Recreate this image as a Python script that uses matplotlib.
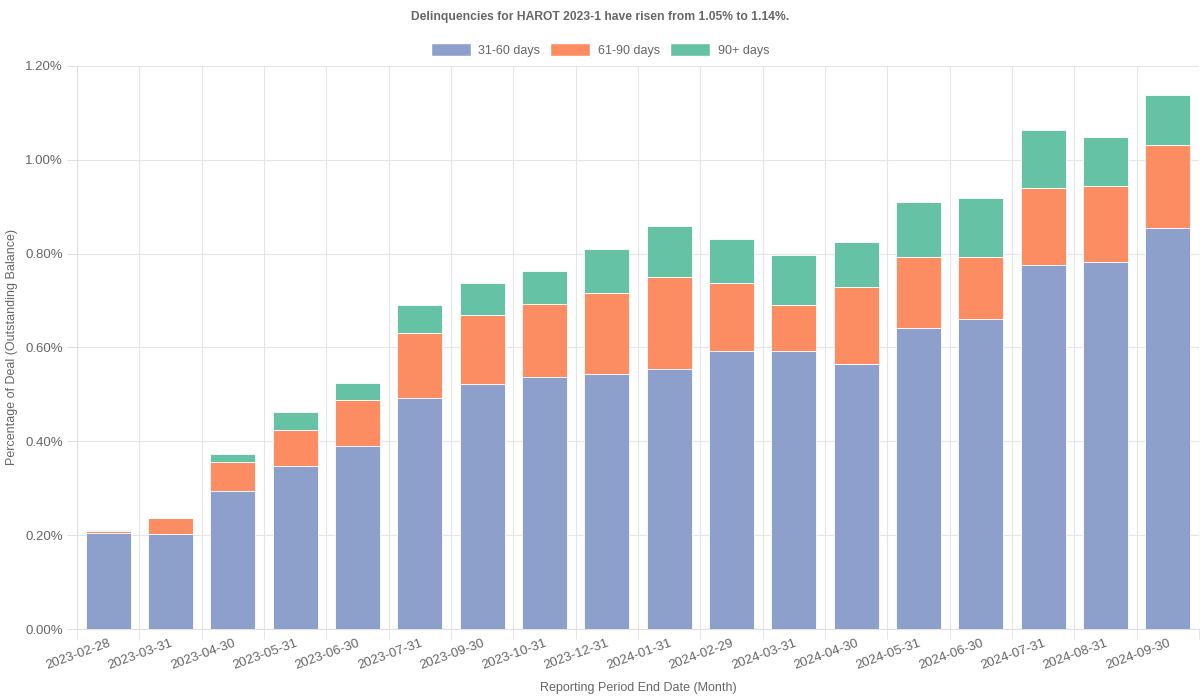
import matplotlib
matplotlib.use("Agg")
import matplotlib.pyplot as plt
from matplotlib.ticker import FuncFormatter, FixedLocator
from matplotlib.patches import Patch
import numpy as np

plt.rcParams['font.family'] = ['Liberation Sans', 'DejaVu Sans']

dates = ["2023-02-28", "2023-03-31", "2023-04-30", "2023-05-31", "2023-06-30",
         "2023-07-31", "2023-09-30", "2023-10-31", "2023-12-31", "2024-01-31",
         "2024-02-29", "2024-03-31", "2024-04-30", "2024-05-31", "2024-06-30",
         "2024-07-31", "2024-08-31", "2024-09-30"]
d31_60 = [0.205, 0.203, 0.294, 0.348, 0.390, 0.493, 0.522, 0.537, 0.544, 0.554,
          0.593, 0.593, 0.565, 0.642, 0.661, 0.776, 0.782, 0.855]
d61_90 = [0.004, 0.034, 0.062, 0.077, 0.098, 0.137, 0.148, 0.156, 0.172, 0.197,
          0.145, 0.098, 0.164, 0.151, 0.132, 0.164, 0.163, 0.177]
d90p = [0.001, 0.000, 0.016, 0.038, 0.037, 0.060, 0.068, 0.070, 0.094, 0.109,
        0.094, 0.106, 0.096, 0.117, 0.126, 0.124, 0.104, 0.107]
series_names = ["31-60 days", "61-90 days", "90+ days"]
colors = ["#8da0cb", "#fc8d62", "#66c2a5"]

fig = plt.figure(figsize=(12, 7), dpi=100)
ax = fig.add_axes([77/1200, 71/700, (1199-77)/1200, (629-66)/700])

x = np.arange(len(dates))
bottom = np.zeros(len(dates))
for vals, c in zip([d31_60, d61_90, d90p], colors):
    v = np.array(vals)
    ax.bar(x, v, bottom=bottom, width=0.72, color=c, edgecolor='white', linewidth=0.6, zorder=3)
    bottom += v

ax.set_xlim(-0.5, len(dates) - 0.5)
ax.set_ylim(0, 1.2)
ax.yaxis.set_major_locator(FixedLocator(np.arange(0, 1.21, 0.2)))
ax.yaxis.set_major_formatter(FuncFormatter(lambda v, p: f"{v:.2f}%"))
ax.set_xticks(x)
ax.set_xticklabels(dates, rotation=20, ha='right', rotation_mode='anchor')
ax.tick_params(axis='x', length=0, pad=6, labelsize=9.5, labelcolor='#666666')
ax.tick_params(axis='y', length=7, color='#e0e0e0', labelsize=9.5, labelcolor='#666666', pad=3)

# vertical gridlines at category boundaries
ax.set_xticks(np.arange(-0.5, len(dates), 1), minor=True)
ax.tick_params(axis='x', which='minor', length=7, color='#e0e0e0')
ax.grid(True, which='minor', axis='x', color='#e5e5e5', linewidth=0.8, zorder=0)
ax.grid(True, which='major', axis='y', color='#e5e5e5', linewidth=0.8, zorder=0)
ax.grid(False, which='major', axis='x')
for s in ['top', 'right']:
    ax.spines[s].set_visible(False)
ax.spines['left'].set_color('#e0e0e0')
ax.spines['bottom'].set_color('#e0e0e0')

fig.text(638/1200, 1 - 688/700, "Reporting Period End Date (Month)", ha='center', va='center',
         color='#666666', fontsize=9)
fig.text(12/1200, 1 - 347/700, "Percentage of Deal (Outstanding Balance)", ha='center', va='center',
         rotation=90, color='#666666', fontsize=9)

fig.text(0.5, 1 - 17/700, "Delinquencies for HAROT 2023-1 have risen from 1.05% to 1.14%.",
         ha='center', va='center', fontsize=8.7, fontweight='bold', color='#666666')

handles = [Patch(facecolor=c, edgecolor='white', label=n) for c, n in zip(colors, series_names)]
fig.legend(handles=handles, loc='center', bbox_to_anchor=(0.5, 1 - 50/700), ncol=3,
           frameon=False, fontsize=9, labelcolor='#666666', handlelength=3.2,
           handleheight=1.2, columnspacing=0.8, handletextpad=0.6)

fig.savefig("out.png", dpi=100)
